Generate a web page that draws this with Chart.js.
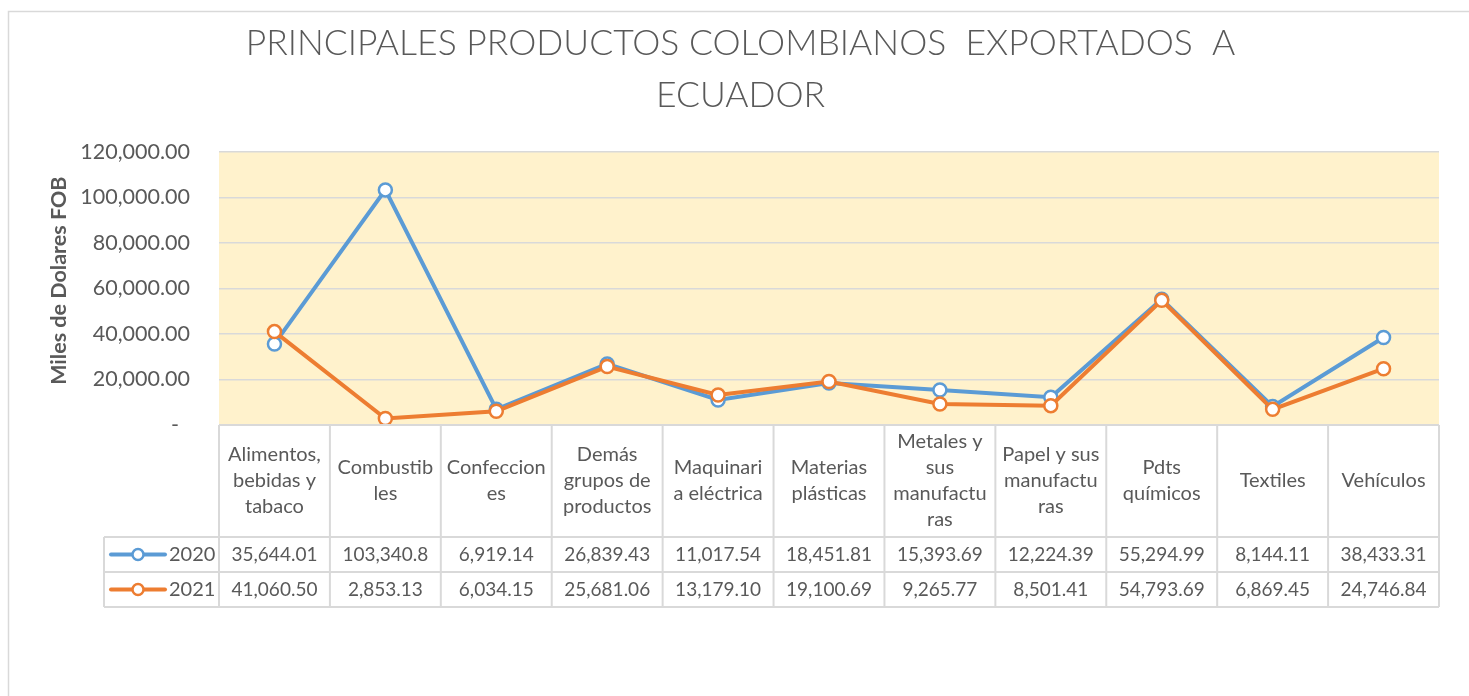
<!DOCTYPE html>
<html>
<head>
<meta charset="utf-8">
<script src="https://cdn.jsdelivr.net/npm/chart.js@4.4.0/dist/chart.umd.min.js"></script>
<style>
  html, body { margin: 0; padding: 0; background: #ffffff; }
  canvas { display: block; }
</style>
</head>
<body>
<canvas id="c" width="1469" height="696"></canvas>
<script>
// ---- data ----
const titleLines = ['PRINCIPALES PRODUCTOS COLOMBIANOS  EXPORTADOS  A', 'ECUADOR'];
const yAxisTitle = 'Miles de Dolares FOB';
const categories = [
  ['Alimentos,', 'bebidas y', 'tabaco'],
  ['Combustib', 'les'],
  ['Confeccion', 'es'],
  ['Demás', 'grupos de', 'productos'],
  ['Maquinari', 'a eléctrica'],
  ['Materias', 'plásticas'],
  ['Metales y', 'sus', 'manufactu', 'ras'],
  ['Papel y sus', 'manufactu', 'ras'],
  ['Pdts', 'químicos'],
  ['Textiles'],
  ['Vehículos']
];
const seriesNames = ['2020', '2021'];
const values2020 = [35644.01, 103340.8, 6919.14, 26839.43, 11017.54, 18451.81, 15393.69, 12224.39, 55294.99, 8144.11, 38433.31];
const values2021 = [41060.50, 2853.13, 6034.15, 25681.06, 13179.10, 19100.69, 9265.77, 8501.41, 54793.69, 6869.45, 24746.84];
const table2020 = ['35,644.01', '103,340.8', '6,919.14', '26,839.43', '11,017.54', '18,451.81', '15,393.69', '12,224.39', '55,294.99', '8,144.11', '38,433.31'];
const table2021 = ['41,060.50', '2,853.13', '6,034.15', '25,681.06', '13,179.10', '19,100.69', '9,265.77', '8,501.41', '54,793.69', '6,869.45', '24,746.84'];
const yMin = 0, yMax = 120000, yStep = 20000;

const FONT = 'Lato, Carlito, Calibri, "Open Sans", sans-serif';
const TEXT = '#595959';
const COLORS = ['#5B9BD5', '#ED7D31'];
const LINE_GRAY = '#D9D9D9';

const bgPlugin = {
  id: 'bg',
  beforeDraw(chart) {
    const ctx = chart.ctx, a = chart.chartArea;
    ctx.save();
    ctx.fillStyle = '#ffffff';
    ctx.fillRect(0, 0, chart.width, chart.height);
    ctx.strokeStyle = LINE_GRAY;
    ctx.lineWidth = 1.5;
    ctx.strokeRect(8.5, 11.5, 1600, 900);
    ctx.fillStyle = '#FFF2CC';
    ctx.fillRect(a.left, a.top, a.right - a.left, a.bottom - a.top);
    ctx.restore();
  }
};

const tablePlugin = {
  id: 'dataTable',
  afterDraw(chart) {
    const ctx = chart.ctx, a = chart.chartArea, xs = chart.scales.x;
    const n = categories.length;
    const colW = (a.right - a.left) / n;
    const top = a.bottom, catBottom = top + 112, r1 = catBottom + 35, r2 = r1 + 35;
    const legLeft = 104;
    ctx.save();
    ctx.strokeStyle = LINE_GRAY;
    ctx.lineWidth = 2;
    ctx.beginPath();
    ctx.moveTo(a.left, top); ctx.lineTo(a.right, top);
    [catBottom, r1, r2].forEach(y => { ctx.moveTo(legLeft, y); ctx.lineTo(a.right, y); });
    for (let i = 0; i <= n; i++) {
      const x = a.left + i * colW;
      ctx.moveTo(x, top); ctx.lineTo(x, r2);
    }
    ctx.moveTo(legLeft, catBottom); ctx.lineTo(legLeft, r2);
    ctx.stroke();

    ctx.fillStyle = TEXT;
    ctx.textAlign = 'center';
    ctx.textBaseline = 'middle';
    ctx.font = '20px ' + FONT;
    const lh = 26;
    categories.forEach((lines, i) => {
      const cx = xs.getPixelForValue(i);
      const cy = (top + catBottom) / 2;
      const y0 = cy - (lines.length - 1) * lh / 2;
      lines.forEach((t, k) => ctx.fillText(t, cx, y0 + k * lh));
    });
    ctx.font = '19px ' + FONT;
    const rows = [table2020, table2021];
    const rowY = [(catBottom + r1) / 2, (r1 + r2) / 2];
    rows.forEach((row, r) => {
      row.forEach((t, i) => ctx.fillText(t, xs.getPixelForValue(i), rowY[r]));
    });
    rowY.forEach((y, r) => {
      ctx.strokeStyle = COLORS[r];
      ctx.lineWidth = 4;
      ctx.lineCap = 'round';
      ctx.beginPath(); ctx.moveTo(111, y); ctx.lineTo(165, y); ctx.stroke();
      ctx.beginPath(); ctx.arc(138, y, 5.5, 0, Math.PI * 2);
      ctx.fillStyle = '#ffffff'; ctx.fill();
      ctx.lineWidth = 2.5; ctx.stroke();
      ctx.fillStyle = TEXT;
      ctx.textAlign = 'left';
      ctx.font = '20px ' + FONT;
      ctx.fillText(seriesNames[r], 169, y);
    });
    ctx.restore();
  }
};

new Chart(document.getElementById('c'), {
  type: 'line',
  data: {
    labels: categories,
    datasets: [
      { label: seriesNames[0], data: values2020, borderColor: COLORS[0], backgroundColor: '#ffffff',
        borderWidth: 4, pointRadius: 6.5, pointBorderWidth: 2.5, pointBackgroundColor: '#ffffff',
        pointBorderColor: COLORS[0], tension: 0, order: 2 },
      { label: seriesNames[1], data: values2021, borderColor: COLORS[1], backgroundColor: '#ffffff',
        borderWidth: 4, pointRadius: 6.5, pointBorderWidth: 2.5, pointBackgroundColor: '#ffffff',
        pointBorderColor: COLORS[1], tension: 0, order: 1 }
    ]
  },
  options: {
    responsive: false,
    animation: false,
    layout: { padding: { left: 42, right: 30, top: 0, bottom: 271 } },
    plugins: {
      legend: { display: false },
      tooltip: { enabled: false },
      title: {
        display: true,
        text: titleLines,
        color: TEXT,
        font: { family: FONT, size: 35.5, weight: 300, lineHeight: 1.465 },
        padding: { top: 18, bottom: 30 }
      }
    },
    scales: {
      x: { type: 'category', offset: true, display: false },
      y: {
        min: yMin, max: yMax,
        ticks: {
          stepSize: yStep, color: TEXT, padding: 29,
          font: { family: FONT, size: 21.5 },
          callback: v => v === 0 ? '-  ' : Number(v).toLocaleString('en-US', { minimumFractionDigits: 2, maximumFractionDigits: 2 })
        },
        grid: { color: LINE_GRAY, lineWidth: 1.5, drawTicks: false },
        border: { display: false },
        title: { display: true, text: '   ' + yAxisTitle, color: TEXT, font: { family: FONT, size: 21.5, weight: 'bold' }, padding: { top: 4, bottom: 4 } },
        afterFit: s => { s.width = 177; }
      }
    }
  },
  plugins: [bgPlugin, tablePlugin]
});
</script>
</body>
</html>
